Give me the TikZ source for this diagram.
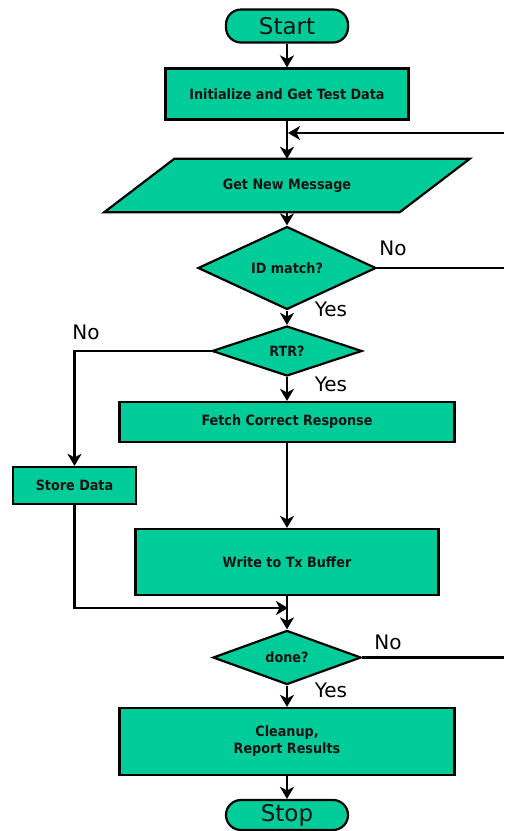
\documentclass[tikz,border=0pt]{standalone}
\usepackage{fontspec}
\setmainfont{DejaVu Sans}
\newfontfamily\boxfont{DejaVu Sans Condensed}
\usetikzlibrary{shapes.geometric,arrows.meta,backgrounds,calc}
\definecolor{flowgreen}{RGB}{0,204,153}
\definecolor{inkdark}{RGB}{20,20,20}

\begin{document}
\begin{tikzpicture}[x=1pt,y=-1pt,
  every node/.style={inner sep=0pt, text=inkdark, font=\boxfont\bfseries\fontsize{14.2}{17}\selectfont},
  box/.style={draw=black, line width=2.2pt, fill=flowgreen, rectangle},
  term/.style={box, rounded corners=15pt, font=\normalfont\fontsize{23}{25}\selectfont},
  decision/.style={box, diamond},
  flow/.style={line width=2.3pt, -{Stealth[length=12pt,width=14pt,inset=3.5pt]}},
  plain/.style={line width=2.6pt},
  answer/.style={text=black, font=\normalfont\fontsize{20}{22}\selectfont}
]
\useasboundingbox (0,0) rectangle (504,831);

% process steps
\node[term, minimum width=122pt, minimum height=33pt] (start) at (287,26) {Start};
\node[box, minimum width=243pt, minimum height=51pt] (init) at (287,94) {Initialize and Get Test Data};
\node[minimum width=295pt, minimum height=53pt] (msg) at (287,185.5) {Get New Message};
\node[decision, minimum width=178pt, minimum height=62pt] (id) at (287,268) {ID match?};
\node[decision, minimum width=150pt, minimum height=50pt] (rtr) at (287,351) {RTR?};
\node[box, minimum width=335pt, minimum height=40pt] (fetch) at (287,422) {Fetch Correct Response};
\node[box, minimum width=123pt, minimum height=37pt] (store) at (74.5,485.5) {Store Data};
\node[box, minimum width=303pt, minimum height=66pt] (write) at (287,562) {Write to Tx Buffer};
\node[decision, minimum width=148pt, minimum height=49pt] (done) at (287,657.5) {done?};
\node[box, minimum width=335pt, minimum height=67pt, align=center] (cleanup) at (287,741.5) {Cleanup,\\Report Results};
\node[term, minimum width=122pt, minimum height=30pt] (stop) at (287,815) {Stop};

% input/output parallelogram behind its label
\begin{scope}[on background layer]
  \draw[box] ($(msg.north west)+(35,0)$) -- ($(msg.north east)+(35,0)$)
    -- ($(msg.south east)+(-35,0)$) -- ($(msg.south west)+(-35,0)$) -- cycle;
\end{scope}

% junctions and loop-back ends
\coordinate (loopin) at (287,133);
\coordinate (loopright) at (504,133);
\coordinate (idright) at (504,268);
\coordinate (merge) at (287,608);
\coordinate (doneright) at (504,657.5);

% connectors
\draw[flow] (start) -- (init);
\draw[flow] (init) -- (msg);
\draw[flow] (loopright) -- ($(loopin)+(1,0)$);
\draw[flow] (msg.south) -- (id.north);
\draw[plain] (id.east) -- (idright);
\draw[flow] (id.south) -- (rtr.north);
\draw[flow] (rtr.west) -| (store.north);
\draw[flow] (rtr.south) -- (fetch.north);
\draw[flow] (fetch) -- (write);
\draw[flow] (store.south) |- ($(merge)+(1,0)$);
\draw[flow] (write.south) -- (done.north);
\draw[plain] (done.east) -- (doneright);
\draw[flow] (done.south) -- (cleanup.north);
\draw[flow] (cleanup) -- (stop);

% branch labels
\node[answer] (idno) at (393,248) {No};
\node[answer] (idyes) at (331,309) {Yes};
\node[answer] (rtrno) at (86,332) {No};
\node[answer] (rtryes) at (331,384) {Yes};
\node[answer] (doneno) at (388,642) {No};
\node[answer] (doneyes) at (331,690) {Yes};
\end{tikzpicture}
\end{document}
